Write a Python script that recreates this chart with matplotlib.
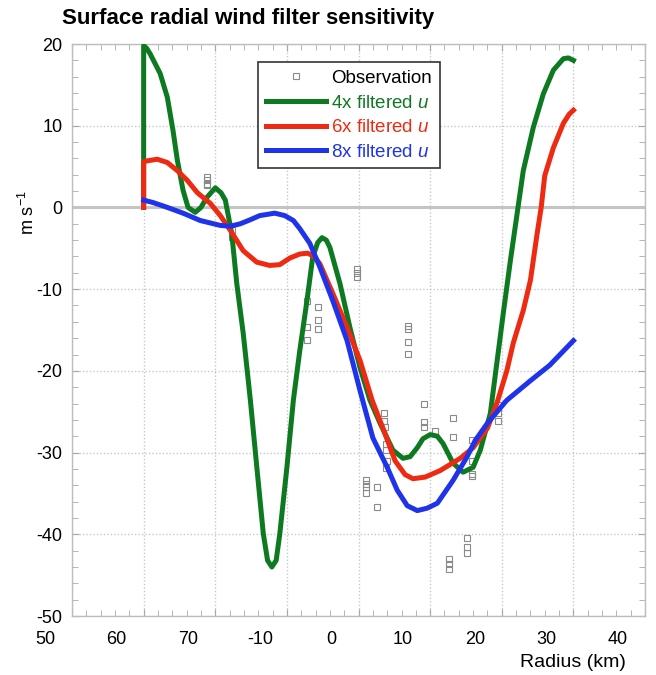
import numpy as np
import matplotlib.pyplot as plt
from matplotlib.ticker import MultipleLocator
from matplotlib.transforms import ScaledTranslation

plt.rcParams['font.family'] = ['Liberation Sans', 'DejaVu Sans']
plt.rcParams['mathtext.fontset'] = 'custom'
plt.rcParams['mathtext.it'] = 'Liberation Sans:italic'
plt.rcParams['mathtext.rm'] = 'Liberation Sans'
plt.rcParams['axes.unicode_minus'] = False

# filtered radial wind profiles (radius km, u m/s)
r4 = [-30.0, -30.0, -29.6, -29.1, -27.7, -26.7, -25.9, -25.3, -24.5, -23.8, -22.8, -22.0, -21.2, -20.0,
      -19.2, -18.6, -17.7, -17.0, -16.1, -15.1, -14.2, -13.3, -12.7, -12.1, -11.5, -11.0, -10.0,
      -9.1, -8.2, -7.2, -6.4, -5.7, -5.1, -4.5, -4.0, -2.6, -1.2, 0.2, 1.6, 3.0, 4.8, 6.2, 7.2,
      8.2, 9.0, 10.0, 11.0, 11.8, 13.2, 14.6, 16.0, 17.0, 18.4, 19.3, 20.2, 21.2, 22.1, 23.0,
      24.4, 25.8, 27.2, 28.6, 29.3, 30.0]
u4 = [0.0, 19.8, 19.5, 18.8, 16.4, 13.5, 9.4, 5.8, 2.1, 0.0, -0.6, 0.0, 1.2, 2.4,
      1.8, 0.9, -3.2, -9.3, -15.4, -23.6, -31.8, -39.9, -43.2, -44.0, -43.2, -40.0, -31.8,
      -23.6, -17.5, -11.4, -6.1, -4.3, -3.7, -4.0, -4.9, -9.3, -14.7, -19.6, -23.6, -26.4, -29.7, -30.7, -30.5,
      -29.4, -28.3, -27.8, -28.0, -28.9, -31.3, -32.4, -31.8, -29.7, -25.2, -19.1, -13.0, -6.5, -1.0, 4.5,
      9.8, 13.9, 16.8, 18.2, 18.3, 18.0]

r6 = [-30.0, -30.0, -29.5, -28.1, -26.7, -25.3, -23.9, -22.5, -20.7, -19.3, -17.9, -16.1, -14.2,
      -12.4, -11.0, -9.6, -8.2, -7.1, -6.2, -5.4, -3.6, -1.6, 0.2, 1.9, 3.4, 5.1, 6.5, 7.6, 9.3,
      11.4, 14.2, 16.0, 18.0, 19.3, 20.7, 21.6, 23.0, 24.0, 24.9, 25.5, 26.0, 27.2, 28.6, 29.4, 30.0]
u6 = [0.0, 5.6, 5.7, 5.9, 5.5, 4.5, 3.3, 1.8, 0.5, -1.0, -2.8, -5.3, -6.7,
      -7.1, -7.0, -6.2, -5.7, -5.6, -6.0, -6.9, -10.5, -14.7, -18.7, -23.6, -27.0, -31.0, -32.7, -33.2, -33.0,
      -32.2, -30.7, -29.4, -27.0, -24.0, -20.0, -16.6, -12.6, -8.9, -3.4, 0.0, 3.9, 7.3, 10.3, 11.4, 11.9]

r8 = [-30.0, -28.7, -27.0, -24.5, -22.1, -19.3, -17.9, -16.5, -15.1, -13.8, -11.7, -10.3, -9.1,
      -8.2, -6.8, -5.4, -3.6, -1.6, 0.2, 2.0, 4.0, 5.4, 6.8, 8.2, 9.6, 11.0, 13.2, 15.1, 16.3,
      18.0, 20.7, 24.0, 26.7, 30.0]
u8 = [0.9, 0.6, 0.1, -0.7, -1.6, -2.2, -2.3, -2.0, -1.5, -1.0, -0.7, -1.0, -1.6,
      -2.6, -4.4, -7.3, -11.4, -16.3, -22.4, -28.2, -31.8, -34.6, -36.5, -37.1, -36.8, -36.2, -33.4, -30.6, -28.5,
      -26.4, -23.6, -21.2, -19.3, -16.3]

# observations
obs_r = [-21.2, -21.2, -21.2, -21.2, -17.7, -17.7,
         -7.2, -7.2, -7.2, -5.7, -5.7, -5.7,
         -0.2, -0.2, -0.2, 1.0, 1.0, 1.0, 1.0, 2.6, 2.6,
         3.6, 3.6, 3.7, 3.8, 3.9, 4.0, 3.9,
         6.9, 6.9, 6.9, 6.9, 9.1, 9.1, 9.1, 10.7,
         12.6, 12.6, 12.6, 13.2, 13.2, 15.1, 15.1, 15.1,
         15.8, 15.8, 15.8, 15.9, 19.5, 19.5, 19.5]
obs_u = [3.7, 3.3, 2.9, 2.7, -2.8, -3.6,
         -11.5, -14.6, -16.2, -12.2, -13.8, -14.9,
         -7.5, -8.0, -8.5, -33.3, -33.8, -34.2, -34.9, -34.2, -36.6,
         -25.1, -26.1, -26.9, -28.9, -29.7, -31.0, -31.9,
         -14.5, -14.9, -16.5, -17.9, -24.0, -26.3, -26.9, -27.3,
         -43.0, -43.6, -44.2, -25.8, -28.1, -40.4, -41.6, -42.3,
         -28.5, -31.0, -32.6, -32.9, -24.2, -25.2, -26.1]

xticks = [-40, -30, -20, -10, 0, 10, 20, 30, 40]
xticklabels = ['50', '60', '70', '-10', '0', '10', '20', '30', '40']

c4, c6, c8 = '#0d7a22', '#ee2b12', '#1e33ea'

fig = plt.figure(figsize=(6.56, 6.75), dpi=100)
ax = fig.add_axes([0.1098, 0.0874, 0.8735, 0.8474])

ax.axhline(0, color='#c4c4c4', lw=2.2, zorder=1)
ax.plot(obs_r, obs_u, ls='none', marker='s', ms=5, mfc='none', mec='#8a8a8a', mew=0.8,
        label='Observation', zorder=2)
lw = 3.6
ax.plot(r4, u4, color=c4, lw=lw, solid_joinstyle='round', label=r'4x filtered $u$', zorder=3)
ax.plot(r6, u6, color=c6, lw=lw, solid_joinstyle='round', label=r'6x filtered $u$', zorder=4)
ax.plot(r8, u8, color=c8, lw=lw, solid_joinstyle='round', label=r'8x filtered $u$', zorder=5)

ax.set_xlim(-40, 40)
ax.set_ylim(-50, 20)
ax.set_xticks(xticks)
ax.set_xticklabels(xticklabels)
ax.set_yticks(np.arange(-50, 21, 10))
ax.xaxis.set_minor_locator(MultipleLocator(2))
ax.yaxis.set_minor_locator(MultipleLocator(2))
ax.grid(True, which='major', color='#c8c8c8', ls=(0, (1, 1.5)), lw=1.0)
ax.set_axisbelow(True)

for s in ax.spines.values():
    s.set_color('#bdbdbd')
    s.set_linewidth(1.0)
ax.tick_params(which='both', direction='in', top=True, right=True, color='#a8a8a8')
ax.tick_params(which='major', length=5, labelsize=13)
ax.tick_params(which='minor', length=4)
ax.tick_params(axis='x', pad=11)
ax.tick_params(axis='y', pad=7)

# tick labels sit left of their ticks
shift = ScaledTranslation(-0.27, 0, fig.dpi_scale_trans)
for lab in ax.get_xticklabels():
    lab.set_transform(lab.get_transform() + shift)

ax.set_ylabel(r'm s$^{\mathregular{-1}}$', fontsize=13)
ax.yaxis.set_label_coords(-0.06, 0.705)
fig.text(0.954, 0.019, 'Radius (km)', ha='right', va='center', fontsize=14)
fig.text(0.095, 0.972, 'Surface radial wind filter sensitivity', ha='left', va='center',
         fontsize=16, fontweight='bold')

leg = ax.legend(loc='upper left', bbox_to_anchor=(0.325, 0.968), fontsize=13.5,
                frameon=True, fancybox=False, edgecolor='#333333', framealpha=1,
                handlelength=3.2, handletextpad=0.3, labelspacing=0.4,
                borderpad=0.4, borderaxespad=0)
leg.get_frame().set_linewidth(1.2)
for txt, col in zip(leg.get_texts(), ['black', c4, c6, c8]):
    txt.set_color(col)

plt.savefig('out.png', dpi=100)
